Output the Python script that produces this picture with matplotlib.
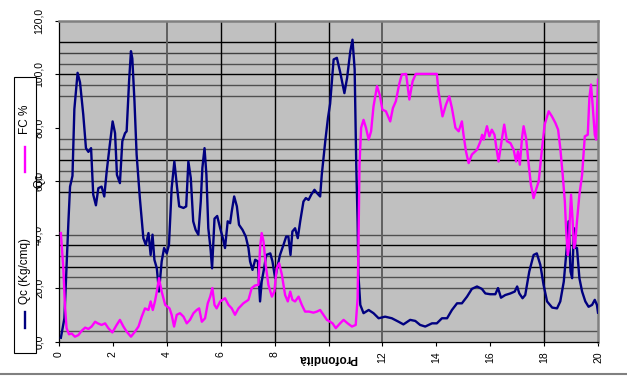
import matplotlib
matplotlib.use("Agg")
import matplotlib.pyplot as plt
from matplotlib.lines import Line2D
from matplotlib.patches import Rectangle

plt.rcParams['font.family'] = ['Liberation Sans', 'DejaVu Sans']

# ---------------- data ----------------
qc_x = [0.07, 0.2, 0.35, 0.41, 0.5, 0.57, 0.69, 0.78, 0.9, 1.0, 1.09, 1.19, 1.27, 1.37, 1.46, 1.58,
        1.68, 1.77, 1.87, 1.99, 2.08, 2.15, 2.26, 2.35, 2.45, 2.51, 2.6, 2.67, 2.72, 2.8, 2.88, 3.0,
        3.13, 3.22, 3.32, 3.4, 3.47, 3.54, 3.63, 3.71, 3.81, 3.9, 4.0, 4.08, 4.18, 4.28, 4.37, 4.46,
        4.62, 4.72, 4.8, 4.89, 4.98, 5.07, 5.17, 5.26, 5.32, 5.4, 5.47, 5.54, 5.62, 5.68, 5.77, 5.87,
        5.98, 6.08, 6.16, 6.26, 6.35, 6.41, 6.5, 6.6, 6.68, 6.81, 6.93, 7.03, 7.09, 7.18, 7.28, 7.38,
        7.46, 7.52, 7.61, 7.69, 7.84, 7.92, 8.02, 8.12, 8.2, 8.33, 8.43, 8.51, 8.59, 8.66, 8.76, 8.86,
        8.95, 9.07, 9.16, 9.26, 9.36, 9.48, 9.57, 9.69, 9.75, 9.88, 9.98, 10.06, 10.19, 10.31, 10.43,
        10.59, 10.69, 10.81, 10.89, 10.97, 11.03, 11.08, 11.11, 11.18, 11.3, 11.49, 11.67, 11.86,
        12.1, 12.35, 12.6, 12.78, 13.03, 13.22, 13.4, 13.59, 13.84, 14.02, 14.21, 14.4, 14.58, 14.77,
        14.95, 15.14, 15.32, 15.51, 15.69, 15.82, 16.0, 16.19, 16.29, 16.4, 16.56, 16.75, 16.91, 17.0,
        17.08, 17.2, 17.3, 17.45, 17.61, 17.73, 17.86, 17.98, 18.11, 18.3, 18.48, 18.6, 18.73, 18.85,
        18.91, 18.98, 19.04, 19.11, 19.16, 19.22, 19.31, 19.41, 19.53, 19.65, 19.78, 19.88, 19.96, 20.0]
qc = [1.4, 8.7, 45, 58, 62, 87, 100.6, 97, 85, 72.4, 71, 72.4, 55, 51, 57.4, 58,
      54.3, 63.7, 72.4, 82.4, 78, 62.4, 59.3, 75, 78, 78.7, 97.4, 108.7, 106, 90, 70, 53.7,
      38.7, 36.2, 40.6, 32.4, 40, 30.6, 27.4, 18.7, 30, 35, 33, 36.2, 57.4, 67.4, 58.7, 50.6,
      50, 50.6, 67.4, 61.2, 45, 41.8, 40, 52.4, 65, 72.4, 62.4, 42.4, 35, 27.4, 46, 47,
      42.4, 38.7, 35, 45, 44.3, 48.7, 54.3, 50.6, 43.7, 41.8, 39.3, 35, 30, 26.8, 30.6, 30,
      15, 22.4, 27.4, 32.4, 33, 30, 23.7, 28.7, 32.4, 36.2, 39.3, 39.3, 32.4, 41.2, 42.4, 38.7,
      45, 52.4, 53.7, 53, 55, 56.8, 55.6, 54.3, 62.4, 75, 83.7, 89, 105.6, 106.2, 101,
      93, 98.7, 108.7, 113, 102, 66, 45, 25, 13.7, 10.6, 11.8, 10.6, 8.7,
      9.3, 8.7, 7.4, 6.4, 8.1, 7.7, 6.2, 5.6, 6.8, 6.8, 8.7, 8.7, 11.8, 14.3,
      14.3, 16.8, 19.7, 20.6, 19.7, 18, 17.7, 17.7, 20, 16.4, 17.4, 18, 18.7, 20.6,
      18, 16.2, 17.4, 26.2, 32.4, 33, 28.7, 21.2, 15, 12.7, 12.4, 15, 22.4, 36.2,
      45, 26.2, 23.7, 42.4, 35, 35, 23.7, 18.7, 15, 13, 13.7, 15.6, 13.7, 10.8]

fc_x = [0.07, 0.16, 0.22, 0.28, 0.37, 0.47, 0.59, 0.72, 0.84, 0.97, 1.09, 1.21, 1.34, 1.44, 1.58,
        1.71, 1.83, 1.98, 2.14, 2.26, 2.39, 2.51, 2.67, 2.82, 2.95, 3.07, 3.19, 3.32, 3.4, 3.48,
        3.56, 3.63, 3.71, 3.81, 3.94, 4.1, 4.18, 4.27, 4.37, 4.49, 4.62, 4.74, 4.86, 4.99, 5.11,
        5.2, 5.3, 5.42, 5.52, 5.61, 5.69, 5.77, 5.85, 5.98, 6.16, 6.29, 6.41, 6.53, 6.66, 6.84,
        7.03, 7.15, 7.28, 7.4, 7.46, 7.52, 7.59, 7.67, 7.77, 7.9, 7.99, 8.08, 8.17, 8.27, 8.39,
        8.49, 8.58, 8.66, 8.76, 8.89, 9.01, 9.13, 9.28, 9.44, 9.57, 9.69, 9.81, 9.94, 10.06,
        10.15, 10.27, 10.43, 10.56, 10.71, 10.87, 11.01, 11.08, 11.11, 11.15, 11.21, 11.3, 11.39,
        11.49, 11.58, 11.67, 11.8, 11.9, 12.0, 12.13, 12.29, 12.39, 12.5, 12.62, 12.72, 12.88,
        13.0, 13.12, 13.24, 13.59, 14.02, 14.08, 14.23, 14.36, 14.48, 14.58, 14.71, 14.83, 14.95,
        15.01, 15.1, 15.2, 15.32, 15.51, 15.64, 15.7, 15.76, 15.88, 15.97, 16.06, 16.16, 16.23,
        16.31, 16.44, 16.52, 16.62, 16.75, 16.87, 16.96, 17.03, 17.1, 17.18, 17.24, 17.33, 17.43,
        17.51, 17.61, 17.7, 17.8, 17.9, 18.02, 18.17, 18.29, 18.42, 18.52, 18.6, 18.69, 18.77,
        18.82, 18.88, 18.92, 18.95, 19.0, 19.06, 19.11, 19.16, 19.22, 19.31, 19.41, 19.51, 19.62,
        19.68, 19.74, 19.8, 19.88, 19.93, 20.0]
fc = [40.6, 27.4, 13.7, 5, 2.7, 3, 1.8, 2.4, 4, 5.2, 4.7, 5.6, 7.4, 6.8, 6.2,
      6.8, 5, 3.4, 6.2, 8.1, 5.6, 3.7, 1.8, 3.7, 5.6, 9.3, 12.4, 11.8, 15, 11.8,
      15, 18.7, 23.7, 18.7, 13.7, 12.4, 10, 5.6, 10, 10.6, 9.3, 6.8, 8.1, 10.6, 11.8,
      12.4, 7.4, 8.7, 14.3, 16.8, 20, 13.7, 12.4, 15, 16.2, 13.7, 12.4, 10, 12.4, 14.3,
      15.6, 20, 21, 21.2, 35, 40.6, 37.4, 28.7, 21.2, 16.8, 18.7, 27.4, 29.3, 25, 17.4,
      15, 18.7, 15.6, 15, 16.8, 13.7, 11.2, 11.2, 10.8, 11.2, 11.8, 10, 8.1, 7.4,
      6.8, 5, 6.8, 8.1, 6.8, 5.6, 6.2, 16.2, 35, 66, 80, 83, 80,
      75.6, 78.7, 88, 95.6, 92.4, 86.8, 86.2, 82.4, 87.4, 90, 96.2, 100, 100.2,
      90.6, 97.4, 100.2, 100.2, 100.2, 93.7, 84.3, 88.7, 91.8, 87.4, 80, 78.7, 82.4,
      77.4, 71.2, 66.8, 70, 71.8, 75, 77.4, 75.6, 80.6, 76.8, 79.3, 77.4, 72.4,
      67.4, 76.2, 81.2, 75, 74.3, 71.8, 67.4, 71.2, 66.2, 76.2, 80.6, 76.2, 66.2,
      58.7, 53.7, 56.8, 60, 70, 81.2, 86.2, 84.3, 81.8, 79.3, 72.4, 62.4, 52.4,
      41.2, 32.4, 35, 45, 55, 45, 35, 37.4, 45, 55, 62.4, 76.8, 77.4,
      91.2, 96.2, 88.7, 77.4, 75.6, 98]

x_ticks = [0, 2, 4, 6, 8, 10, 12, 14, 16, 18, 20]
x_tick_labels = ['0', '2', '4', '6', '8', '10', '12', '14', '16', '18', '20']
y_ticks = [0, 20, 40, 60, 80, 100, 120]
y_tick_labels = ['0,0', '20,0', '40,0', '60,0', '80,0', '100,0', '120,0']

# ---------------- style (grid levels as drawn in the original) ----------------
hgrid = [(112, 'k'), (108, '#404040'), (104, '#505050'), (100, 'k'), (96, '#505050'),
         (92, '#505050'), (76, '#505050'), (72, '#505050'), (68, 'k'), (64, '#505050'),
         (60, '#404040'), (56, 'k'), (40, '#505050'), (36, 'k'), (32, '#505050'),
         (28, 'k'), (24, '#505050'), (20, '#505050'), (4, '#505050')]
vgrid = [(4, '#606060', 1.4), (6, 'k', 1.0), (8, 'k', 1.0), (10, 'k', 1.0),
         (12, '#606060', 1.4), (18, 'k', 1.0)]

W, H = 627, 378
fig = plt.figure(figsize=(W / 100, H / 100), dpi=100)
ax = fig.add_axes([59 / W, (H - 341.5) / H, (598 - 59) / W, (341.5 - 21) / H])
ax.set_facecolor('#c0c0c0')
ax.set_xlim(0, 20)
ax.set_ylim(0, 120)

for yv, c in hgrid:
    ax.axhline(yv, color=c, lw=1.0, zorder=1)
for xv, c, lw in vgrid:
    ax.axvline(xv, color=c, lw=lw, zorder=1)

ax.plot(qc_x, qc, color='#000080', lw=1.7, zorder=3, solid_joinstyle='round')
ax.plot(fc_x, fc, color='#ff00ff', lw=1.7, zorder=4, solid_joinstyle='round')

ax.set_xticks(x_ticks)
ax.set_xticklabels(x_tick_labels, rotation=90, fontsize=7.5)
ax.set_yticks(y_ticks)
ax.set_yticklabels(y_tick_labels, rotation=90, fontsize=7.5, va='center')
ax.tick_params(axis='x', length=3, width=0.8, pad=4, color='k')
ax.tick_params(axis='y', length=3, width=0.8, pad=8, color='k')

for s in ['top', 'right']:
    ax.spines[s].set_color('#808080')
    ax.spines[s].set_linewidth(1.8)
for s in ['left', 'bottom']:
    ax.spines[s].set_color('k')
    ax.spines[s].set_linewidth(0.9)

# axis titles
fig.text(328 / W, 1 - 358 / H, 'Profondità', rotation=180, ha='center', va='center',
         fontsize=8.5, fontweight='bold',
         bbox=dict(facecolor='white', edgecolor='none', pad=0.5))
fig.text(40 / W, 1 - 181 / H, 'Qc', rotation=90, ha='center', va='center', fontsize=8.5)

# legend box
fig.patches.append(Rectangle((14 / W, 1 - 353 / H), (36 - 14) / W, (353 - 77) / H,
                             transform=fig.transFigure, facecolor='white',
                             edgecolor='k', lw=0.8))
fig.lines.append(Line2D([25 / W, 25 / W], [1 - 172 / H, 1 - 147 / H],
                        transform=fig.transFigure, color='#ff00ff', lw=1.7))
fig.text(25 / W, 1 - 119 / H, 'FC %', rotation=90, ha='center', va='center', fontsize=8.5)
fig.lines.append(Line2D([25 / W, 25 / W], [1 - 328 / H, 1 - 312 / H],
                        transform=fig.transFigure, color='#000080', lw=1.7))
fig.text(25 / W, 1 - 271 / H, 'Qc (Kg/cmq)', rotation=90, ha='center', va='center', fontsize=8.5)

# bottom frame line
fig.lines.append(Line2D([0, 1], [1 - 374 / H, 1 - 374 / H], transform=fig.transFigure,
                        color='#808080', lw=1.5))

fig.savefig('out.png', dpi=100)
